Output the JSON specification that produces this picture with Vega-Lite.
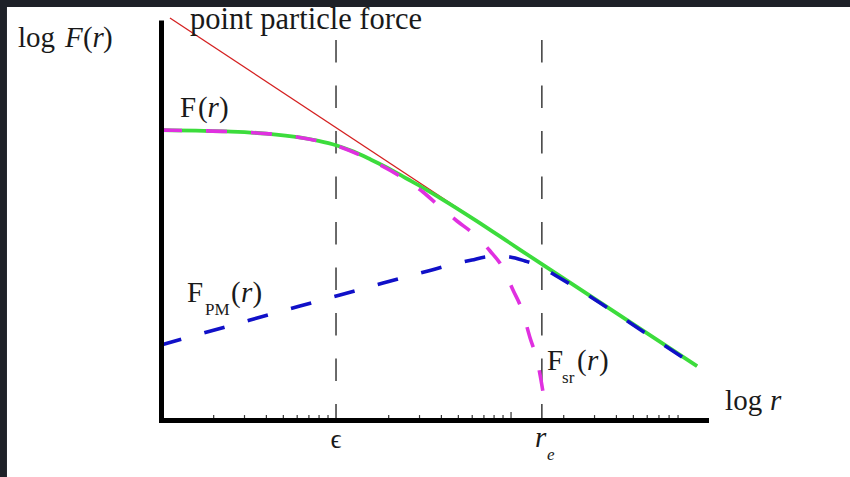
{
  "$schema": "https://vega.github.io/schema/vega-lite/v6.json",
  "autosize": {"type": "none"},
  "width": 545,
  "height": 400,
  "padding": {"left": 161, "top": 20, "right": 144, "bottom": 57},
  "background": "#1e2128",
  "view": {"stroke": null},
  "config": {
    "axis": {"title": null, "labels": false, "ticks": false, "grid": false, "domainColor": "#000000", "domainWidth": 5},
    "axisX": {"domainCap": "square"}
  },
  "datasets": {
    "pointParticle": [
      {"r": 0.1125, "logF": 1.894},
      {"r": 115.6, "logF": -4.11}
    ],
    "total": [
      {"r": 0.1, "logF": -0.04},
      {"r": 0.1585, "logF": -0.05},
      {"r": 0.2512, "logF": -0.065},
      {"r": 0.3981, "logF": -0.1},
      {"r": 0.631, "logF": -0.17},
      {"r": 0.794, "logF": -0.225},
      {"r": 1.0, "logF": -0.3},
      {"r": 1.259, "logF": -0.41},
      {"r": 1.585, "logF": -0.55},
      {"r": 1.995, "logF": -0.7},
      {"r": 2.512, "logF": -0.87},
      {"r": 3.162, "logF": -1.04},
      {"r": 3.981, "logF": -1.22},
      {"r": 6.31, "logF": -1.6},
      {"r": 10.0, "logF": -2.0},
      {"r": 15.85, "logF": -2.4},
      {"r": 115.6, "logF": -4.11}
    ],
    "shortRange": [
      {"r": 0.1, "logF": -0.04},
      {"r": 0.1585, "logF": -0.05},
      {"r": 0.2512, "logF": -0.065},
      {"r": 0.3981, "logF": -0.1},
      {"r": 0.631, "logF": -0.17},
      {"r": 1.0, "logF": -0.305},
      {"r": 1.585, "logF": -0.56},
      {"r": 2.414, "logF": -0.866},
      {"r": 3.14, "logF": -1.107},
      {"r": 3.93, "logF": -1.366},
      {"r": 4.91, "logF": -1.607},
      {"r": 6.22, "logF": -1.849},
      {"r": 7.59, "logF": -2.125},
      {"r": 8.99, "logF": -2.418},
      {"r": 10.26, "logF": -2.798},
      {"r": 11.56, "logF": -3.143},
      {"r": 12.85, "logF": -3.626},
      {"r": 14.09, "logF": -4.005},
      {"r": 14.83, "logF": -4.35},
      {"r": 15.44, "logF": -4.67}
    ],
    "particleMesh": [
      {"r": 0.1, "logF": -3.746},
      {"r": 0.167, "logF": -3.557},
      {"r": 0.323, "logF": -3.315},
      {"r": 0.622, "logF": -3.074},
      {"r": 1.054, "logF": -2.884},
      {"r": 1.857, "logF": -2.677},
      {"r": 2.478, "logF": -2.573},
      {"r": 3.357, "logF": -2.47},
      {"r": 4.48, "logF": -2.366},
      {"r": 5.98, "logF": -2.28},
      {"r": 7.1, "logF": -2.228},
      {"r": 8.31, "logF": -2.211},
      {"r": 9.87, "logF": -2.228},
      {"r": 12.02, "logF": -2.297},
      {"r": 14.09, "logF": -2.366},
      {"r": 18.58, "logF": -2.573},
      {"r": 32.3, "logF": -3.022},
      {"r": 62.2, "logF": -3.591},
      {"r": 94.9, "logF": -3.953}
    ],
    "lengthScales": [
      {"r": 1, "name": "softening"},
      {"r": 15, "name": "split radius"}
    ],
    "minorTicks": [
      {"r": 0.2}, {"r": 0.3}, {"r": 0.4}, {"r": 0.5}, {"r": 0.6}, {"r": 0.7}, {"r": 0.8}, {"r": 0.9},
      {"r": 2}, {"r": 3}, {"r": 4}, {"r": 5}, {"r": 6}, {"r": 7}, {"r": 8}, {"r": 9},
      {"r": 20}, {"r": 30}, {"r": 40}, {"r": 50}, {"r": 60}, {"r": 70}, {"r": 80}, {"r": 90}
    ],
    "decadeTicks": [{"r": 10}],
    "caption": [
      {"text": "point particle force", "r": 0.1464, "logF": 1.7047}
    ],
    "uprightText": [
      {"text": "log", "r": 0.01524, "logF": 1.3942},
      {"text": "(", "r": 0.03584, "logF": 1.3942},
      {"text": ")", "r": 0.04662, "logF": 1.3942},
      {"text": "F", "r": 0.1284, "logF": 0.1867},
      {"text": "(", "r": 0.1627, "logF": 0.1867},
      {"text": ")", "r": 0.2145, "logF": 0.1867},
      {"text": "F", "r": 0.1408, "logF": -3.0046},
      {"text": "(", "r": 0.2512, "logF": -3.0046},
      {"text": ")", "r": 0.3333, "logF": -3.0046},
      {"text": "F", "r": 16.06, "logF": -4.1776},
      {"text": "(", "r": 23.84, "logF": -4.1776},
      {"text": ")", "r": 31.83, "logF": -4.1776},
      {"text": "log", "r": 167.1, "logF": -4.8676}
    ],
    "italicText": [
      {"text": "F", "r": 0.02828, "logF": 1.3942},
      {"text": "r", "r": 0.04061, "logF": 1.3942},
      {"text": "r", "r": 0.1843, "logF": 0.1867},
      {"text": "r", "r": 0.2865, "logF": -3.0046},
      {"text": "r", "r": 27.19, "logF": -4.1776},
      {"text": "r", "r": 302, "logF": -4.8676},
      {"text": "r", "r": 13.71, "logF": -5.5059}
    ],
    "subscripts": [
      {"text": "PM", "r": 0.1784, "logF": -3.2288},
      {"text": "sr", "r": 19.56, "logF": -4.4019}
    ],
    "italicSubscripts": [
      {"text": "e", "r": 16.06, "logF": -5.7301}
    ],
    "epsilonLabel": [
      {"text": "ϵ", "r": 1, "logF": -5.5231}
    ]
  },
  "layer": [
    {
      "data": {"values": [{}]},
      "mark": {"type": "rect", "color": "#ffffff"},
      "encoding": {
        "x": {"datum": 0.01318, "type": "quantitative", "scale": {"type": "log", "domain": [0.1, 130], "nice": false}},
        "x2": {"datum": 1000},
        "y": {"datum": 2.0843, "type": "quantitative", "scale": {"domain": [-5.04, 1.86], "nice": false, "zero": false}},
        "y2": {"datum": -6.1}
      }
    },
    {
      "data": {"name": "lengthScales"},
      "mark": {"type": "rule", "color": "#3a3a3a", "strokeWidth": 1.5, "strokeDash": [22.5, 23]},
      "encoding": {
        "x": {"field": "r", "type": "quantitative", "scale": {"type": "log", "domain": [0.1, 130], "nice": false}},
        "y": {"datum": 1.515, "type": "quantitative", "scale": {"domain": [-5.04, 1.86], "nice": false, "zero": false}},
        "y2": {"datum": -5.04}
      }
    },
    {
      "data": {"name": "minorTicks"},
      "mark": {"type": "rule", "color": "#333333", "strokeWidth": 1.2},
      "encoding": {
        "x": {"field": "r", "type": "quantitative", "scale": {"type": "log", "domain": [0.1, 130], "nice": false}},
        "y": {"datum": -5.04, "type": "quantitative", "scale": {"domain": [-5.04, 1.86], "nice": false, "zero": false}},
        "y2": {"datum": -4.955}
      }
    },
    {
      "data": {"name": "decadeTicks"},
      "mark": {"type": "rule", "color": "#333333", "strokeWidth": 1.2},
      "encoding": {
        "x": {"field": "r", "type": "quantitative", "scale": {"type": "log", "domain": [0.1, 130], "nice": false}},
        "y": {"datum": -5.04, "type": "quantitative", "scale": {"domain": [-5.04, 1.86], "nice": false, "zero": false}},
        "y2": {"datum": -4.9}
      }
    },
    {
      "data": {"name": "pointParticle"},
      "mark": {"type": "line", "color": "#d42020", "strokeWidth": 1.3},
      "encoding": {
        "x": {"field": "r", "type": "quantitative", "scale": {"type": "log", "domain": [0.1, 130], "nice": false},
              "axis": {"title": null, "labels": false, "ticks": false, "grid": false, "domainColor": "#000000", "domainWidth": 5, "domainCap": "square", "zindex": 2}},
        "y": {"field": "logF", "type": "quantitative", "scale": {"domain": [-5.04, 1.86], "nice": false, "zero": false},
              "axis": {"title": null, "labels": false, "ticks": false, "grid": false, "domainColor": "#000000", "domainWidth": 5, "zindex": 2}}
      }
    },
    {
      "data": {"name": "total"},
      "mark": {"type": "line", "color": "#3cdc3c", "strokeWidth": 3.8, "interpolate": "monotone"},
      "encoding": {
        "x": {"field": "r", "type": "quantitative", "scale": {"type": "log", "domain": [0.1, 130], "nice": false}},
        "y": {"field": "logF", "type": "quantitative", "scale": {"domain": [-5.04, 1.86], "nice": false, "zero": false}}
      }
    },
    {
      "data": {"name": "shortRange"},
      "mark": {"type": "line", "color": "#e030e0", "strokeWidth": 3.6, "interpolate": "monotone", "strokeDash": [21, 24]},
      "encoding": {
        "x": {"field": "r", "type": "quantitative", "scale": {"type": "log", "domain": [0.1, 130], "nice": false}},
        "y": {"field": "logF", "type": "quantitative", "scale": {"domain": [-5.04, 1.86], "nice": false, "zero": false}}
      }
    },
    {
      "data": {"name": "particleMesh"},
      "mark": {"type": "line", "color": "#1010c8", "strokeWidth": 3.6, "interpolate": "monotone", "strokeDash": [21, 24]},
      "encoding": {
        "x": {"field": "r", "type": "quantitative", "scale": {"type": "log", "domain": [0.1, 130], "nice": false}},
        "y": {"field": "logF", "type": "quantitative", "scale": {"domain": [-5.04, 1.86], "nice": false, "zero": false}}
      }
    },
    {
      "data": {"name": "caption"},
      "mark": {"type": "text", "font": "Liberation Serif", "fontSize": 30.5, "align": "left", "baseline": "alphabetic", "color": "#1a1a1a"},
      "encoding": {
        "x": {"field": "r", "type": "quantitative", "scale": {"type": "log", "domain": [0.1, 130], "nice": false}},
        "y": {"field": "logF", "type": "quantitative", "scale": {"domain": [-5.04, 1.86], "nice": false, "zero": false}},
        "text": {"field": "text"}
      }
    },
    {
      "data": {"name": "uprightText"},
      "mark": {"type": "text", "font": "Liberation Serif", "fontSize": 29, "align": "left", "baseline": "alphabetic", "color": "#1a1a1a"},
      "encoding": {
        "x": {"field": "r", "type": "quantitative", "scale": {"type": "log", "domain": [0.1, 130], "nice": false}},
        "y": {"field": "logF", "type": "quantitative", "scale": {"domain": [-5.04, 1.86], "nice": false, "zero": false}},
        "text": {"field": "text"}
      }
    },
    {
      "data": {"name": "italicText"},
      "mark": {"type": "text", "font": "Liberation Serif", "fontSize": 29, "fontStyle": "italic", "align": "left", "baseline": "alphabetic", "color": "#1a1a1a"},
      "encoding": {
        "x": {"field": "r", "type": "quantitative", "scale": {"type": "log", "domain": [0.1, 130], "nice": false}},
        "y": {"field": "logF", "type": "quantitative", "scale": {"domain": [-5.04, 1.86], "nice": false, "zero": false}},
        "text": {"field": "text"}
      }
    },
    {
      "data": {"name": "subscripts"},
      "mark": {"type": "text", "font": "Liberation Serif", "fontSize": 17, "align": "left", "baseline": "alphabetic", "color": "#1a1a1a"},
      "encoding": {
        "x": {"field": "r", "type": "quantitative", "scale": {"type": "log", "domain": [0.1, 130], "nice": false}},
        "y": {"field": "logF", "type": "quantitative", "scale": {"domain": [-5.04, 1.86], "nice": false, "zero": false}},
        "text": {"field": "text"}
      }
    },
    {
      "data": {"name": "italicSubscripts"},
      "mark": {"type": "text", "font": "Liberation Serif", "fontSize": 17, "fontStyle": "italic", "align": "left", "baseline": "alphabetic", "color": "#1a1a1a"},
      "encoding": {
        "x": {"field": "r", "type": "quantitative", "scale": {"type": "log", "domain": [0.1, 130], "nice": false}},
        "y": {"field": "logF", "type": "quantitative", "scale": {"domain": [-5.04, 1.86], "nice": false, "zero": false}},
        "text": {"field": "text"}
      }
    },
    {
      "data": {"name": "epsilonLabel"},
      "mark": {"type": "text", "font": "Liberation Serif", "fontSize": 27, "align": "center", "baseline": "alphabetic", "color": "#1a1a1a"},
      "encoding": {
        "x": {"field": "r", "type": "quantitative", "scale": {"type": "log", "domain": [0.1, 130], "nice": false}},
        "y": {"field": "logF", "type": "quantitative", "scale": {"domain": [-5.04, 1.86], "nice": false, "zero": false}},
        "text": {"field": "text"}
      }
    }
  ]
}
